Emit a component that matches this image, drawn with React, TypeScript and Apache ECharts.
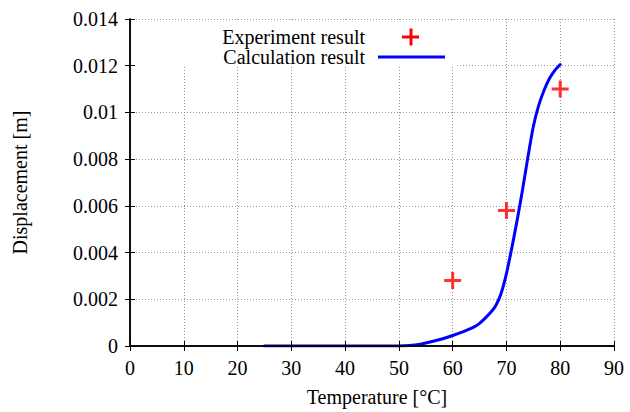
import React, { useEffect, useRef } from "react";
import * as echarts from "echarts";

const xTicks = [0, 10, 20, 30, 40, 50, 60, 70, 80, 90];
const yTicks = [0, 0.002, 0.004, 0.006, 0.008, 0.01, 0.012, 0.014];

const expTemp = [60, 70, 80];
const expDisp = [0.0028, 0.0058, 0.011];

const calcTemp = [25, 30, 35, 40, 45, 50, 52, 54, 56, 58, 60, 62, 64, 65, 66, 67, 68, 69, 70, 71, 72, 73, 74, 75, 76, 77, 78, 79, 80];
const calcDisp = [0, 0, 0, 0, 0, 0, 0.00002, 0.00008, 0.00018, 0.0003, 0.00045, 0.00062, 0.00082, 0.00097, 0.00118, 0.00142, 0.00172, 0.00225, 0.0031, 0.0042, 0.0054, 0.0067, 0.0081, 0.0094, 0.0103, 0.01095, 0.01145, 0.0118, 0.01205];

const legendLabels = ["Experiment result", "Calculation result"];

const FONT = "'Liberation Serif', 'DejaVu Serif', serif";

export default function App() {
  const ref = useRef<HTMLDivElement>(null);
  useEffect(() => {
    if (!ref.current) return;
    const chart = echarts.init(ref.current, undefined, { renderer: "svg" });
    const fmtY = (v: number) => parseFloat(v.toFixed(3)).toString();
    const grid = { left: 130, top: 19, right: 16, bottom: 63 };
    const xMin = xTicks[0], xMax = xTicks[xTicks.length - 1], xInt = xTicks[1] - xTicks[0];
    const yMin = yTicks[0], yMax = yTicks[yTicks.length - 1], yInt = 0.002;
    const axisLineStyle = { color: "#000", width: 1.5 };
    const tickStyle = { color: "#000", width: 1 };
    const splitStyle = { color: "#999", width: 1, type: [1, 2] as any };
    chart.setOption({
      animation: false,
      backgroundColor: "#fff",
      grid,
      xAxis: [
        {
          type: "value", min: xMin, max: xMax, interval: xInt, position: "bottom", z: 3,
          axisLine: { show: true, lineStyle: axisLineStyle },
          axisTick: { show: true, inside: true, length: 5, lineStyle: tickStyle },
          axisLabel: { show: true, margin: 12, fontSize: 20, color: "#000", fontFamily: FONT },
          splitLine: { show: false },
          name: "Temperature [°C]", nameLocation: "middle", nameGap: 41,
          nameTextStyle: { fontSize: 20, color: "#000", fontFamily: FONT, padding: [0, 0, 0, 10] },
        },
        {
          type: "value", min: xMin, max: xMax, interval: xInt, position: "top", z: 3,
          axisLine: { show: true, lineStyle: axisLineStyle },
          axisTick: { show: true, inside: true, length: 5, lineStyle: tickStyle },
          axisLabel: { show: false },
          splitLine: { show: false },
        },
        {
          type: "value", min: xMin, max: xMax, interval: xInt, position: "bottom", z: 0,
          axisLine: { show: false }, axisTick: { show: false }, axisLabel: { show: false },
          splitLine: { show: true, lineStyle: splitStyle },
        },
      ],
      yAxis: [
        {
          type: "value", min: yMin, max: yMax, interval: yInt, position: "left", z: 3,
          axisLine: { show: true, lineStyle: axisLineStyle },
          axisTick: { show: true, inside: true, length: 5, lineStyle: tickStyle },
          axisLabel: { show: true, margin: 12, fontSize: 20, color: "#000", fontFamily: FONT, formatter: fmtY },
          splitLine: { show: false },
          name: "Displacement [m]", nameLocation: "middle", nameGap: 100, nameRotate: 90,
          nameTextStyle: { fontSize: 20, color: "#000", fontFamily: FONT },
        },
        {
          type: "value", min: yMin, max: yMax, interval: yInt, position: "right", z: 3,
          axisLine: { show: true, lineStyle: axisLineStyle },
          axisTick: { show: true, inside: true, length: 5, lineStyle: tickStyle },
          axisLabel: { show: false },
          splitLine: { show: false },
        },
        {
          type: "value", min: yMin, max: yMax, interval: yInt, position: "left", z: 0,
          axisLine: { show: false }, axisTick: { show: false }, axisLabel: { show: false },
          splitLine: { show: true, lineStyle: splitStyle },
        },
      ],
      graphic: [
        { type: "rect", z: 1, shape: { x: 131, y: 20, width: 324, height: 46 }, style: { fill: "#fff" } },
        { type: "text", z: 4, style: { x: 365, y: 37, text: legendLabels[0], align: "right", verticalAlign: "middle", fontSize: 20, fontFamily: FONT, fill: "#000" } },
        { type: "text", z: 4, style: { x: 365, y: 57, text: legendLabels[1], align: "right", verticalAlign: "middle", fontSize: 20, fontFamily: FONT, fill: "#000" } },
        { type: "rect", z: 4, shape: { x: 402, y: 35.5, width: 17, height: 3 }, style: { fill: "#ff0000" } },
        { type: "rect", z: 4, shape: { x: 409.5, y: 28.5, width: 3, height: 17 }, style: { fill: "#ff0000" } },
        { type: "line", z: 4, shape: { x1: 378, y1: 57, x2: 445, y2: 57 }, style: { stroke: "#0000ff", lineWidth: 3 } },
      ],
      series: [
        {
          name: legendLabels[1], type: "line", xAxisIndex: 0, yAxisIndex: 0, z: 2,
          data: calcTemp.map((t, i) => [t, calcDisp[i]]),
          showSymbol: false, smooth: 0.25,
          lineStyle: { color: "#0000ff", width: 3, join: "round", cap: "round" },
        },
        {
          name: legendLabels[0], type: "scatter", xAxisIndex: 0, yAxisIndex: 0, z: 3,
          data: expTemp.map((t, i) => [t, expDisp[i]]),
          symbol: "path://M0,7H17V10H0Z M7,0H10V17H7Z", symbolSize: 17,
          itemStyle: { color: "#ff0000" },
        },
      ],
    });
    return () => chart.dispose();
  }, []);
  return <div ref={ref} style={{ position: "absolute", left: 0, top: 0, width: 630, height: 412 }} />;
}
